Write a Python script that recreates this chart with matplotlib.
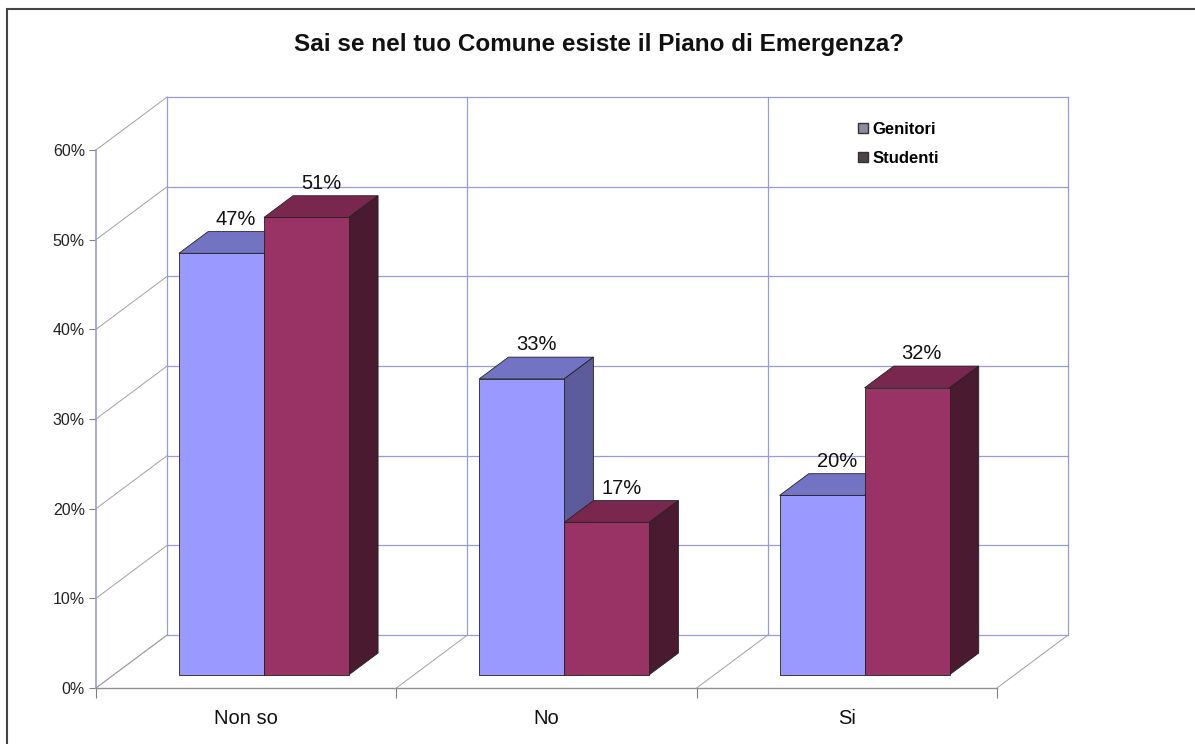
import matplotlib.pyplot as plt
from matplotlib.patches import Polygon, Rectangle
from matplotlib.lines import Line2D

plt.rcParams['font.family'] = ['Liberation Sans', 'DejaVu Sans']

categories = ['Non so', 'No', 'Si']
genitori = [47, 33, 20]
studenti = [51, 17, 32]
series_names = ['Genitori', 'Studenti']
yticks = [0, 10, 20, 30, 40, 50, 60]

# colori (fronte, sopra, lato)
col_gen = ('#9999ff', '#7373c4', '#5c5c9c')
col_stu = ('#993366', '#7a2750', '#4a1a30')
wall_col = '#9a9ae0'
diag_col = '#a0a0a0'

# profondita' dell'effetto 3D (in unita' dati)
DX = 71 / 300.0
DY = 53 / 8.97
F0, F1 = 0.25, 0.66
BW = 0.283

fig = plt.figure(figsize=(11.95, 7.44), dpi=100)
ax = fig.add_axes([96 / 1195, 56 / 744, 901 / 1195, 538 / 744])
ax.set_xlim(0, 3)
ax.set_ylim(0, 60)
for s in ax.spines.values():
    s.set_visible(False)


def proj(x, y, f):
    return (x + f * DX, y + f * DY)


# parete di fondo
for t in yticks:
    ax.plot([proj(0, t, 1)[0], proj(3, t, 1)[0]], [proj(0, t, 1)[1]] * 2,
            color=wall_col, lw=0.9, clip_on=False, zorder=1)
    # linee diagonali parete sinistra
    ax.plot([0, DX], [t, t + DY], color=diag_col, lw=0.7, clip_on=False, zorder=1)
for i in range(4):
    ax.plot([i + DX] * 2, [DY, 60 + DY], color=wall_col, lw=0.9, clip_on=False, zorder=1)
    # linee diagonali pavimento
    ax.plot([i, i + DX], [0, DY], color=diag_col, lw=0.7, clip_on=False, zorder=1)

# assi frontali
ax.plot([0, 0], [0, 60], color=wall_col, lw=1.2, clip_on=False, zorder=2)
ax.plot([0, 3], [0, 0], color='#909090', lw=1.0, clip_on=False, zorder=2)

zc = [4.0]


def bar3d(x0, v, cols):
    xf, yf = proj(x0, 0, F0)
    top = [proj(x0, v, F0), proj(x0 + BW, v, F0), proj(x0 + BW, v, F1), proj(x0, v, F1)]
    side = [proj(x0 + BW, 0, F0), proj(x0 + BW, 0, F1), proj(x0 + BW, v, F1), proj(x0 + BW, v, F0)]
    ax.add_patch(Polygon(top, closed=True, fc=cols[1], ec='#222222', lw=0.6, zorder=zc[0], clip_on=False))
    ax.add_patch(Polygon(side, closed=True, fc=cols[2], ec='#222222', lw=0.6, zorder=zc[0], clip_on=False))
    ax.bar(xf, v, width=BW, bottom=yf, align='edge', color=cols[0],
           edgecolor='#222222', lw=0.6, zorder=zc[0] + 0.01, clip_on=False)
    zc[0] += 0.1
    fm = (F0 + F1) / 2
    lx, ly = proj(x0 + BW / 2, v, fm)
    ax.text(lx, ly + 2.6, '%d%%' % v, ha='center', va='center', fontsize=14.5,
            color='#111111', zorder=10)


for i in range(len(categories)):
    # prima Genitori poi Studenti (Studenti copre il lato di Genitori)
    bar3d(i + 0.5 - BW, genitori[i], col_gen)
    bar3d(i + 0.5, studenti[i], col_stu)

ax.set_yticks(yticks)
ax.set_yticklabels(['%d%%' % t for t in yticks], fontsize=11.5, color='#222222')
ax.tick_params(axis='y', length=5, width=0.8, color='#808080', pad=3)
ax.set_xticks([0.5, 1.5, 2.5])
ax.set_xticklabels(categories, fontsize=14.5, color='#111111')
ax.set_xticks([0, 1, 2, 3], minor=True)
ax.tick_params(axis='x', which='major', length=0, pad=15)
ax.tick_params(axis='x', which='minor', length=7, width=0.8, color='#808080')

# legenda
handles = [Line2D([], [], marker='s', ls='', markersize=7, markerfacecolor='#8c8c9e',
                  markeredgecolor='#333333'),
           Line2D([], [], marker='s', ls='', markersize=7, markerfacecolor='#4e4248',
                  markeredgecolor='#333333')]
fig.legend(handles, series_names, loc='upper left', bbox_to_anchor=(840 / 1195, 1 - 107 / 744),
           frameon=False, prop={'size': 12, 'weight': 'bold'}, handletextpad=0.05,
           labelspacing=0.85, handlelength=1.0)

fig.text(599 / 1195, 1 - 45 / 744, 'Sai se nel tuo Comune esiste il Piano di Emergenza?',
         ha='center', va='center', fontsize=17.5, fontweight='bold', color='#111111')

# bordo del grafico
fig.add_artist(Rectangle((7 / 1195, -0.1), 1.2, 1 - 9 / 744 + 0.1, transform=fig.transFigure,
                         fill=False, ec='#444444', lw=1.5))

fig.savefig('out.png', dpi=100)
